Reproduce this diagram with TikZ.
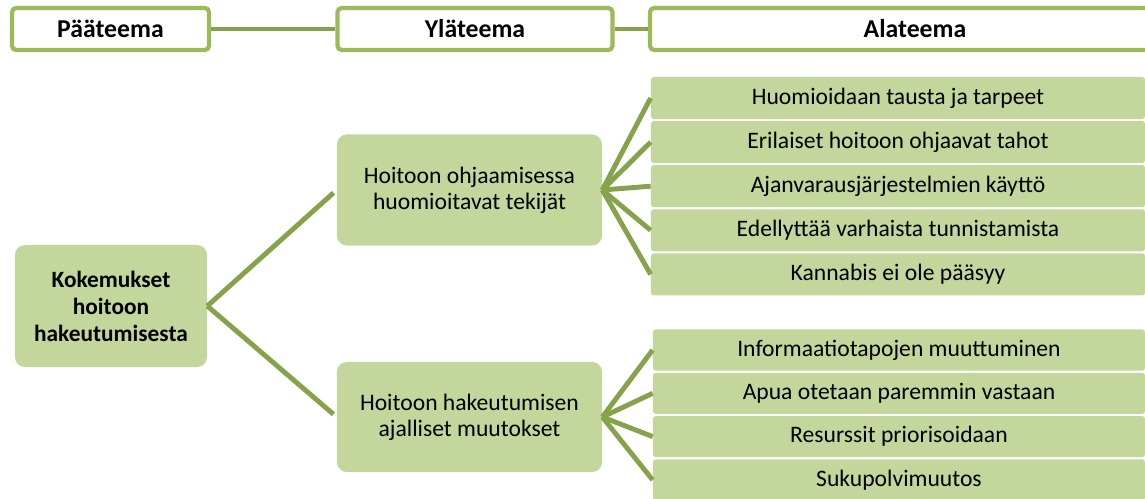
\documentclass[tikz,border=0pt]{standalone}
\usepackage{fontspec}
\setmainfont{Carlito}
\usepackage{xcolor}
\definecolor{olivefill}{RGB}{195,214,155}
\definecolor{oliveline}{RGB}{155,187,89}
\definecolor{olivedark}{RGB}{134,163,76}

\tikzset{
  header/.style={draw=oliveline, line width=3pt, fill=white, rounded corners=3pt,
    minimum height=1.05cm, inner sep=0pt, font=\fontsize{18.3}{20}\selectfont\bfseries},
  theme/.style={fill=olivefill, rounded corners=7pt, inner sep=0pt, align=center,
    font=\fontsize{16.8}{18.5}\selectfont},
  subtheme/.style={fill=olivefill, rounded corners=2pt, inner sep=0pt,
    font=\fontsize{16.8}{18.5}\selectfont},
  link/.style={olivedark, line width=3.5pt}
}

\begin{document}
\begin{tikzpicture}[line cap=butt,line join=round,x=0.025cm,y=-0.025cm]
    \useasboundingbox (0,0) rectangle (1145,499);

    % otsikkorivi
    \node[header, minimum width=4.925cm] (hdrpaa) at (110.5,29) {Pääteema};
    \node[header, minimum width=6.875cm] (hdryla) at (475,29) {Yläteema};
    \node[header, minimum width=13.25cm] (hdrala) at (915,29) {Alateema};
    \draw[link] (hdrpaa.east) -- (hdryla.west);
    \draw[link] (hdryla.east) -- (hdrala.west);

    % pääteema ja yläteemat
    \node[theme, minimum width=4.8cm, minimum height=3.05cm,
      font=\fontsize{16.6}{19.2}\selectfont\bfseries] (main) at (111,306)
      {Kokemukset\\hoitoon\\hakeutumisesta};
    \node[theme, minimum width=6.625cm, minimum height=2.775cm] (ohjaus) at (469.5,190)
      {Hoitoon ohjaamisessa\\huomioitavat tekijät};
    \node[theme, minimum width=6.625cm, minimum height=2.75cm] (muutos) at (469.5,417)
      {Hoitoon hakeutumisen\\ajalliset muutokset};
    \draw[link, shorten >=3pt] (main.east) -- (ohjaus.west);
    \draw[link, shorten >=3pt] (main.east) -- (muutos.west);

    % alateemat 1
    \node[subtheme, minimum width=12.35cm, minimum height=1.05cm] (tausta) at (898,98) {Huomioidaan tausta ja tarpeet};
    \node[subtheme, minimum width=12.35cm, minimum height=1.05cm] (tahot) at (898,142.1) {Erilaiset hoitoon ohjaavat tahot};
    \node[subtheme, minimum width=12.35cm, minimum height=1.05cm] (ajanvaraus) at (898,186.2) {Ajanvarausjärjestelmien käyttö};
    \node[subtheme, minimum width=12.35cm, minimum height=1.05cm] (tunnistus) at (898,230.3) {Edellyttää varhaista tunnistamista};
    \node[subtheme, minimum width=12.35cm, minimum height=1.05cm] (kannabis) at (898,274.4) {Kannabis ei ole pääsyy};
    \draw[link] (ohjaus.east) -- (tausta.west);
    \draw[link] (ohjaus.east) -- (tahot.west);
    \draw[link] (ohjaus.east) -- (ajanvaraus.west);
    \draw[link] (ohjaus.east) -- (tunnistus.west);
    \draw[link] (ohjaus.east) -- (kannabis.west);

    % alateemat 2
    \node[subtheme, minimum width=12.3cm, minimum height=1.025cm] (info) at (899,350) {Informaatiotapojen muuttuminen};
    \node[subtheme, minimum width=12.3cm, minimum height=1.025cm] (apua) at (899,393.3) {Apua otetaan paremmin vastaan};
    \node[subtheme, minimum width=12.3cm, minimum height=1.025cm] (resurssit) at (899,436.6) {Resurssit priorisoidaan};
    \node[subtheme, minimum width=12.3cm, minimum height=1.025cm] (sukupolvi) at (899,480) {Sukupolvimuutos};
    \draw[link] (muutos.east) -- (info.west);
    \draw[link] (muutos.east) -- (apua.west);
    \draw[link] (muutos.east) -- (resurssit.west);
    \draw[link] (muutos.east) -- (sukupolvi.west);
\end{tikzpicture}
\end{document}
